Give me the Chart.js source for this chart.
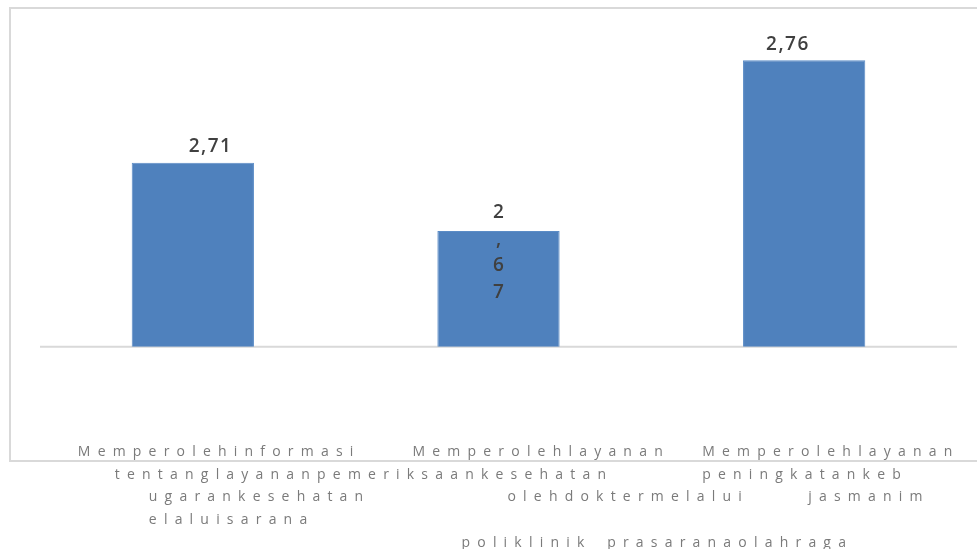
<!DOCTYPE html>
<html><head><meta charset="utf-8">
<script src="https://cdn.jsdelivr.net/npm/chart.js@4.4.1/dist/chart.umd.min.js"></script>
<style>html,body{margin:0;padding:0;background:#fff;overflow:hidden}canvas{display:block}</style>
</head><body>
<canvas id="c" width="977" height="549"></canvas>
<script>
// ---- data ----
const categories = [
  ["Memperolehinformasi", "tentanglayananpemeriksaankesehatan", "ugarankesehatan", "elaluisarana"],
  ["Memperolehlayanan", "olehdoktermelalui", "poliklinik"],
  ["Memperolehlayanan", "peningkatankeb", "jasmanim", "prasaranaolahraga"]
];
const values = [2.708, 2.674, 2.759];
const axisCross = 2.6164;
const yMin = 2.57;
const yMax = 2.78;

// ---- layout (not data) ----
// each fragment: [line index, x offset of its left edge from the category centre]
const labelLayout = [
  [[0, -115], [1, -78], [2, -44], [3, -44]],
  [[0, -86], [2, 9], [4, -37]],
  [[0, -102], [1, -102], [2, 4], [4, -197]]
];
const valueLabelLayout = [{dx: 17, wrap: false}, {dx: 0, wrap: true}, {dx: -17, wrap: false}];

function spacedWidth(ctx, text, sp) {
  let w = 0;
  for (const ch of text) w += ctx.measureText(ch).width + sp;
  return w - sp;
}
function drawSpaced(ctx, text, x, y, sp) {
  let cx = x;
  for (const ch of text) { ctx.fillText(ch, cx, y); cx += ctx.measureText(ch).width + sp; }
}
const fmt = v => v.toFixed(2).replace('.', ',');

const framePlugin = {
  id: 'frame',
  beforeDatasetsDraw(chart) {
    const ctx = chart.ctx, ca = chart.chartArea, y = chart.scales.y;
    ctx.save();
    ctx.strokeStyle = '#d9d9d9';
    ctx.lineWidth = 2;
    ctx.strokeRect(10, 8, 990, 453);
    const py = y.getPixelForValue(axisCross);
    ctx.beginPath();
    ctx.moveTo(ca.left, py);
    ctx.lineTo(ca.right, py);
    ctx.stroke();
    ctx.restore();
  },
  afterDatasetsDraw(chart) {
    const ctx = chart.ctx, x = chart.scales.x;
    const meta = chart.getDatasetMeta(0);
    ctx.save();
    // value labels
    ctx.font = '600 19px "Open Sans"';
    ctx.fillStyle = '#404040';
    ctx.textBaseline = 'middle';
    ctx.textAlign = 'left';
    meta.data.forEach((bar, i) => {
      const txt = fmt(values[i]);
      const lay = valueLabelLayout[i];
      if (lay.wrap) {
        [...txt].forEach((ch, k) => {
          const w = ctx.measureText(ch).width;
          ctx.fillText(ch, bar.x + lay.dx - w / 2, bar.y - 18 + k * 26.4);
        });
      } else {
        const w = spacedWidth(ctx, txt, 1.5);
        drawSpaced(ctx, txt, bar.x + lay.dx - w / 2, bar.y - 16, 1.5);
      }
    });
    // category labels
    ctx.font = '14px "Open Sans"';
    ctx.fillStyle = '#7a7a7a';
    categories.forEach((lines, i) => {
      const cx = x.getPixelForValue(i);
      lines.forEach((t, j) => {
        const [line, dx] = labelLayout[i][j];
        drawSpaced(ctx, t, cx + dx, 452 + line * 22.7, 7.2);
      });
    });
    ctx.restore();
  }
};

new Chart(document.getElementById('c'), {
  type: 'bar',
  data: {
    labels: categories.map(c => c.join(' ')),
    datasets: [{
      data: values,
      base: axisCross,
      backgroundColor: '#4f81bd',
      borderColor: '#5b8cc6',
      borderWidth: 1,
      barPercentage: 0.4,
      categoryPercentage: 1
    }]
  },
  options: {
    responsive: false,
    animation: false,
    devicePixelRatio: 1,
    layout: {padding: {left: 40, right: 20, top: 18, bottom: 109}},
    plugins: {legend: {display: false}, tooltip: {enabled: false}, title: {display: false}},
    scales: {
      x: {display: false},
      y: {display: false, min: yMin, max: yMax}
    }
  },
  plugins: [framePlugin]
});
</script>
</body></html>
